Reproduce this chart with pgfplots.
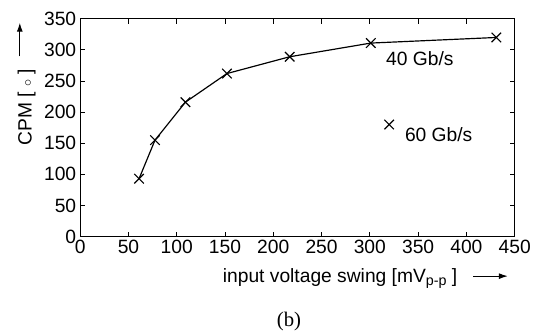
\documentclass[border=0pt]{standalone}
\usepackage{fontspec}
\setmainfont{Liberation Sans}
\newfontfamily\seriffont{Liberation Serif}
\usepackage{pgfplots}
\pgfplotsset{compat=1.18}
\usetikzlibrary{arrows.meta}
\begin{document}
\begin{tikzpicture}
\begin{axis}[
  scale only axis,
  width=439bp, height=220bp,
  at={(0,0)}, anchor=south west,
  xmin=0, xmax=450, ymin=0, ymax=350,
  xtick={0,50,...,450}, ytick={0,50,...,350},
  tick align=inside,
  major tick length=5bp,
  axis line style={line width=1.2pt},
  every tick/.style={black, line width=1pt},
  /pgf/number format/assume math mode=true,
  tick label style={font=\fontsize{19.5}{22}\selectfont},
  xticklabel style={yshift=-0.5bp},
  yticklabel style={xshift=-0.5bp},
]
\addplot[black, line width=1.2pt, mark=x, mark size=6.8bp, mark options={line width=1.2pt}]
  coordinates {(61,93) (77.5,155) (109,216) (152,262) (217,289) (301,311) (431,320)};
\addplot[black, only marks, mark=x, mark size=6.8bp, mark options={line width=1.2pt}]
  coordinates {(320,180)};
\end{axis}
\node[anchor=base west, inner sep=0, font=\fontsize{19.5}{22}\selectfont] at (144bp,-46bp)
  {input voltage swing [mV\raisebox{-0.35ex}{\fontsize{14.5}{15}\selectfont p-p} ]};
\draw[line width=1pt, -{Latex[length=9bp,width=6bp]}] (397bp,-40bp) -- (432bp,-40bp);
\node[anchor=base west, inner sep=0, rotate=90, font=\fontsize{19.5}{22}\selectfont] at (-49bp,92bp)
  {CPM [ \(\scriptstyle\circ\) ]};
\draw[line width=1pt, -{Latex[length=9bp,width=6bp]}] (-61bp,182bp) -- (-61bp,216bp);
\node[anchor=base west, inner sep=0, font=\fontsize{19.5}{22}\selectfont] at (309bp,173bp) {40 Gb/s};
\node[anchor=base west, inner sep=0, font=\fontsize{19.5}{22}\selectfont] at (328bp,96bp) {60 Gb/s};
\node[anchor=base, inner sep=0, font=\seriffont\fontsize{21}{24}\selectfont] at (211bp,-91bp) {(b)};
\path (-81bp,-95bp) rectangle (453bp,239bp);
\end{tikzpicture}
\end{document}
